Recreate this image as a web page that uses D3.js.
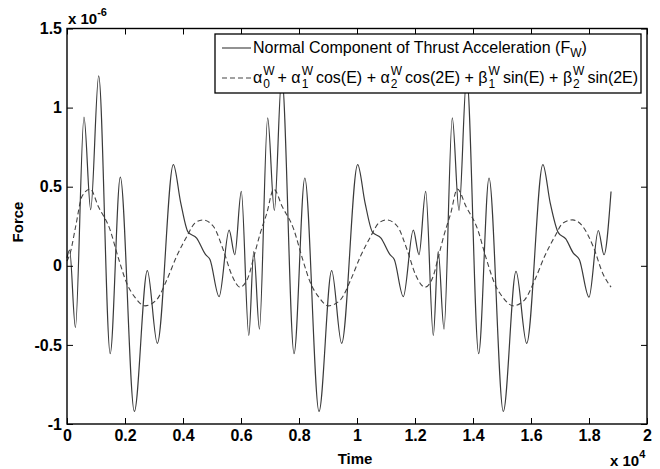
<!DOCTYPE html>
<html>
<head>
<meta charset="utf-8">
<script src="https://cdn.jsdelivr.net/npm/d3@7/dist/d3.min.js"></script>
<style>
  body { margin: 0; background: #fff; }
  text { font-family: "Liberation Sans", Arial, Helvetica, sans-serif; fill: #000; }
</style>
</head>
<body>
<svg id="chart" width="660" height="469"></svg>
<script>
// Normal component of thrust acceleration, time (s) and force (x 1e-6)
let thrustTime = [0, 90, 290, 586, 817, 1093, 1490, 1838, 2322, 2770, 3115, 3667, 3920, 4170, 4470, 4780, 4930, 5245, 5590, 5785, 6010, 6270, 6440, 6635,
  6920, 7150, 7405, 7830, 8200, 8690, 9126, 9471, 10023, 10276, 10528, 10828, 11138, 11286, 11597, 11941, 12138, 12369, 12632, 12800, 13000,
  13286, 13517, 13782, 14195, 14552, 15046, 15483, 15851, 16410, 16660, 16941, 17200, 17459, 17666, 18000, 18321, 18517, 18760];
let thrustForce = [0.05, 0.10, -0.39, 0.94, 0.355, 1.20, -0.555, 0.56, -0.92, -0.03, -0.49, 0.64, 0.40, 0.215, 0.175, 0.07, 0.04, -0.195, 0.225, 0.07, 0.47, -0.44, 0.09, -0.40,
  0.935, 0.35, 1.20, -0.555, 0.555, -0.92, -0.03, -0.49, 0.64, 0.40, 0.215, 0.175, 0.07, 0.04, -0.195, 0.225, 0.07, 0.47, -0.44, 0.09, -0.40,
  0.935, 0.35, 1.20, -0.555, 0.555, -0.92, -0.035, -0.49, 0.64, 0.40, 0.21, 0.17, 0.08, 0.04, -0.198, 0.223, 0.07, 0.47];

// Fourier fit (alpha / beta coefficients)
let fitTime = [0, 110, 300, 520, 800, 1080, 1480, 1770, 2060, 2345, 2690, 3090, 3440, 3780, 4130, 4410, 4680, 5045, 5390, 5680, 5966, 6252, 6448, 6655, 6886,
  7130, 7420, 7820, 8110, 8400, 8690, 9011, 9430, 9780, 10120, 10470, 10750, 11023, 11390, 11730, 12020, 12345, 12620, 12810, 13010, 13230,
  13460, 13760, 14160, 14450, 14740, 15030, 15390, 15780, 16130, 16470, 16820, 17100, 17437, 17780, 18150, 18480, 18760];
let fitForce = [0.03, 0.08, 0.25, 0.44, 0.485, 0.375, 0.23, 0.05, -0.11, -0.2, -0.253, -0.215, -0.09, 0.06, 0.185, 0.27, 0.29, 0.25, 0.10, -0.057, -0.135, -0.07, 0.06, 0.2, 0.33,
  0.485, 0.375, 0.23, 0.05, -0.11, -0.2, -0.253, -0.215, -0.09, 0.06, 0.185, 0.27, 0.29, 0.25, 0.10, -0.057, -0.135, -0.07, 0.06, 0.2, 0.33,
  0.485, 0.375, 0.23, 0.05, -0.11, -0.2, -0.253, -0.215, -0.09, 0.06, 0.185, 0.27, 0.29, 0.25, 0.12, -0.05, -0.135];

let xTicks = [0, 2000, 4000, 6000, 8000, 10000, 12000, 14000, 16000, 18000, 20000];
let yTicks = [-1, -0.5, 0, 0.5, 1, 1.5];

let svg = d3.select("#chart");
let plotLeft = 67, plotRight = 647, plotTop = 28.5, plotBottom = 424;

let xScale = d3.scaleLinear().domain([0, 20000]).range([plotLeft, plotRight]);
let yScale = d3.scaleLinear().domain([-1, 1.5]).range([plotBottom, plotTop]);

// Curves
let line = d3.line()
  .x(d => xScale(d[0]))
  .y(d => yScale(d[1]))
  .curve(d3.curveMonotoneX);

svg.append("path")
  .datum(fitTime.map((t, i) => [t, fitForce[i]]))
  .attr("d", line)
  .attr("fill", "none")
  .attr("stroke", "#444")
  .attr("stroke-width", 1.1)
  .attr("stroke-dasharray", "5,3");

svg.append("path")
  .datum(thrustTime.map((t, i) => [t, thrustForce[i]]))
  .attr("d", line)
  .attr("fill", "none")
  .attr("stroke", "#3a3a3a")
  .attr("stroke-width", 1.2);

// Axes, ticks inward on all four sides
let tickFont = g => g.selectAll("text").attr("font-size", 16).attr("font-weight", "bold").attr("fill", "#000");
let noDomain = g => g.select(".domain").remove();

svg.append("g")
  .attr("transform", `translate(0, ${plotBottom})`)
  .call(d3.axisBottom(xScale).tickValues(xTicks).tickSizeInner(-6).tickSizeOuter(0).tickPadding(6)
    .tickFormat(d => String(d / 1e4)))
  .call(noDomain).call(tickFont);

svg.append("g")
  .attr("transform", `translate(0, ${plotTop})`)
  .call(d3.axisTop(xScale).tickValues(xTicks).tickSizeInner(-6).tickSizeOuter(0).tickFormat(""))
  .call(noDomain);

svg.append("g")
  .attr("transform", `translate(${plotLeft}, 0)`)
  .call(d3.axisLeft(yScale).tickValues(yTicks).tickSizeInner(-6).tickSizeOuter(0).tickPadding(5)
    .tickFormat(d => String(d)))
  .call(noDomain).call(tickFont);

svg.append("g")
  .attr("transform", `translate(${plotRight}, 0)`)
  .call(d3.axisRight(yScale).tickValues(yTicks).tickSizeInner(-6).tickSizeOuter(0).tickFormat(""))
  .call(noDomain);

svg.append("rect")
  .attr("x", plotLeft).attr("y", plotTop)
  .attr("width", plotRight - plotLeft).attr("height", plotBottom - plotTop)
  .attr("fill", "none").attr("stroke", "#000").attr("stroke-width", 1.4);

// Axis labels and exponent notes
svg.append("text").attr("x", 355).attr("y", 464).attr("text-anchor", "middle")
  .attr("font-size", 15).attr("font-weight", "bold").text("Time");
svg.append("text").attr("transform", "translate(23, 222) rotate(-90)").attr("text-anchor", "middle")
  .attr("font-size", 15).attr("font-weight", "bold").text("Force");

let e6 = svg.append("text").attr("x", 68).attr("y", 24).attr("font-size", 15).attr("font-weight", "bold");
e6.append("tspan").text("x 10");
e6.append("tspan").attr("dy", -8).attr("font-size", 11).text("-6");

let e4 = svg.append("text").attr("x", 610).attr("y", 466).attr("font-size", 15).attr("font-weight", "bold");
e4.append("tspan").text("x 10");
e4.append("tspan").attr("dy", -8).attr("font-size", 11).text("4");

// Legend
let legend = svg.append("g");
legend.append("rect")
  .attr("x", 215).attr("y", 34).attr("width", 426).attr("height", 59)
  .attr("fill", "#fff").attr("stroke", "#000").attr("stroke-width", 1.3);

legend.append("line").attr("x1", 222).attr("x2", 251).attr("y1", 48).attr("y2", 48)
  .attr("stroke", "#3a3a3a").attr("stroke-width", 1.1);
legend.append("line").attr("x1", 222).attr("x2", 251).attr("y1", 78).attr("y2", 78)
  .attr("stroke", "#444").attr("stroke-width", 1.1).attr("stroke-dasharray", "5,3");

let legendSize = 16, scriptSize = 12;
let row1 = legend.append("text").attr("x", 253).attr("y", 53).attr("font-size", legendSize);
row1.append("tspan").text("Normal Component of Thrust Acceleration (F");
row1.append("tspan").attr("font-size", scriptSize).attr("dy", 4).text("W");
row1.append("tspan").attr("dy", -4).text(")");

// second row: coefficients with stacked superscript W and subscript index
let rowPieces = [["\u03b1", "0"], [" + \u03b1", "1"], [" cos(E) + \u03b1", "2"], [" cos(2E) + \u03b2", "1"], [" sin(E) + \u03b2", "2"], [" sin(2E)", null]];
let cx = 253, base = 83;
function put(str, x, y, size) {
  let t = legend.append("text").attr("x", x).attr("y", y).attr("font-size", size).text(str);
  return t.node().getComputedTextLength();
}
rowPieces.forEach(p => {
  cx += put(p[0], cx, base, legendSize);
  if (p[1] !== null) {
    let wSup = put("W", cx + 1, base - 8, scriptSize);
    let wSub = put(p[1], cx + 1, base + 5, scriptSize);
    cx += Math.max(wSup, wSub) + 4;
  }
});
</script>
</body>
</html>
